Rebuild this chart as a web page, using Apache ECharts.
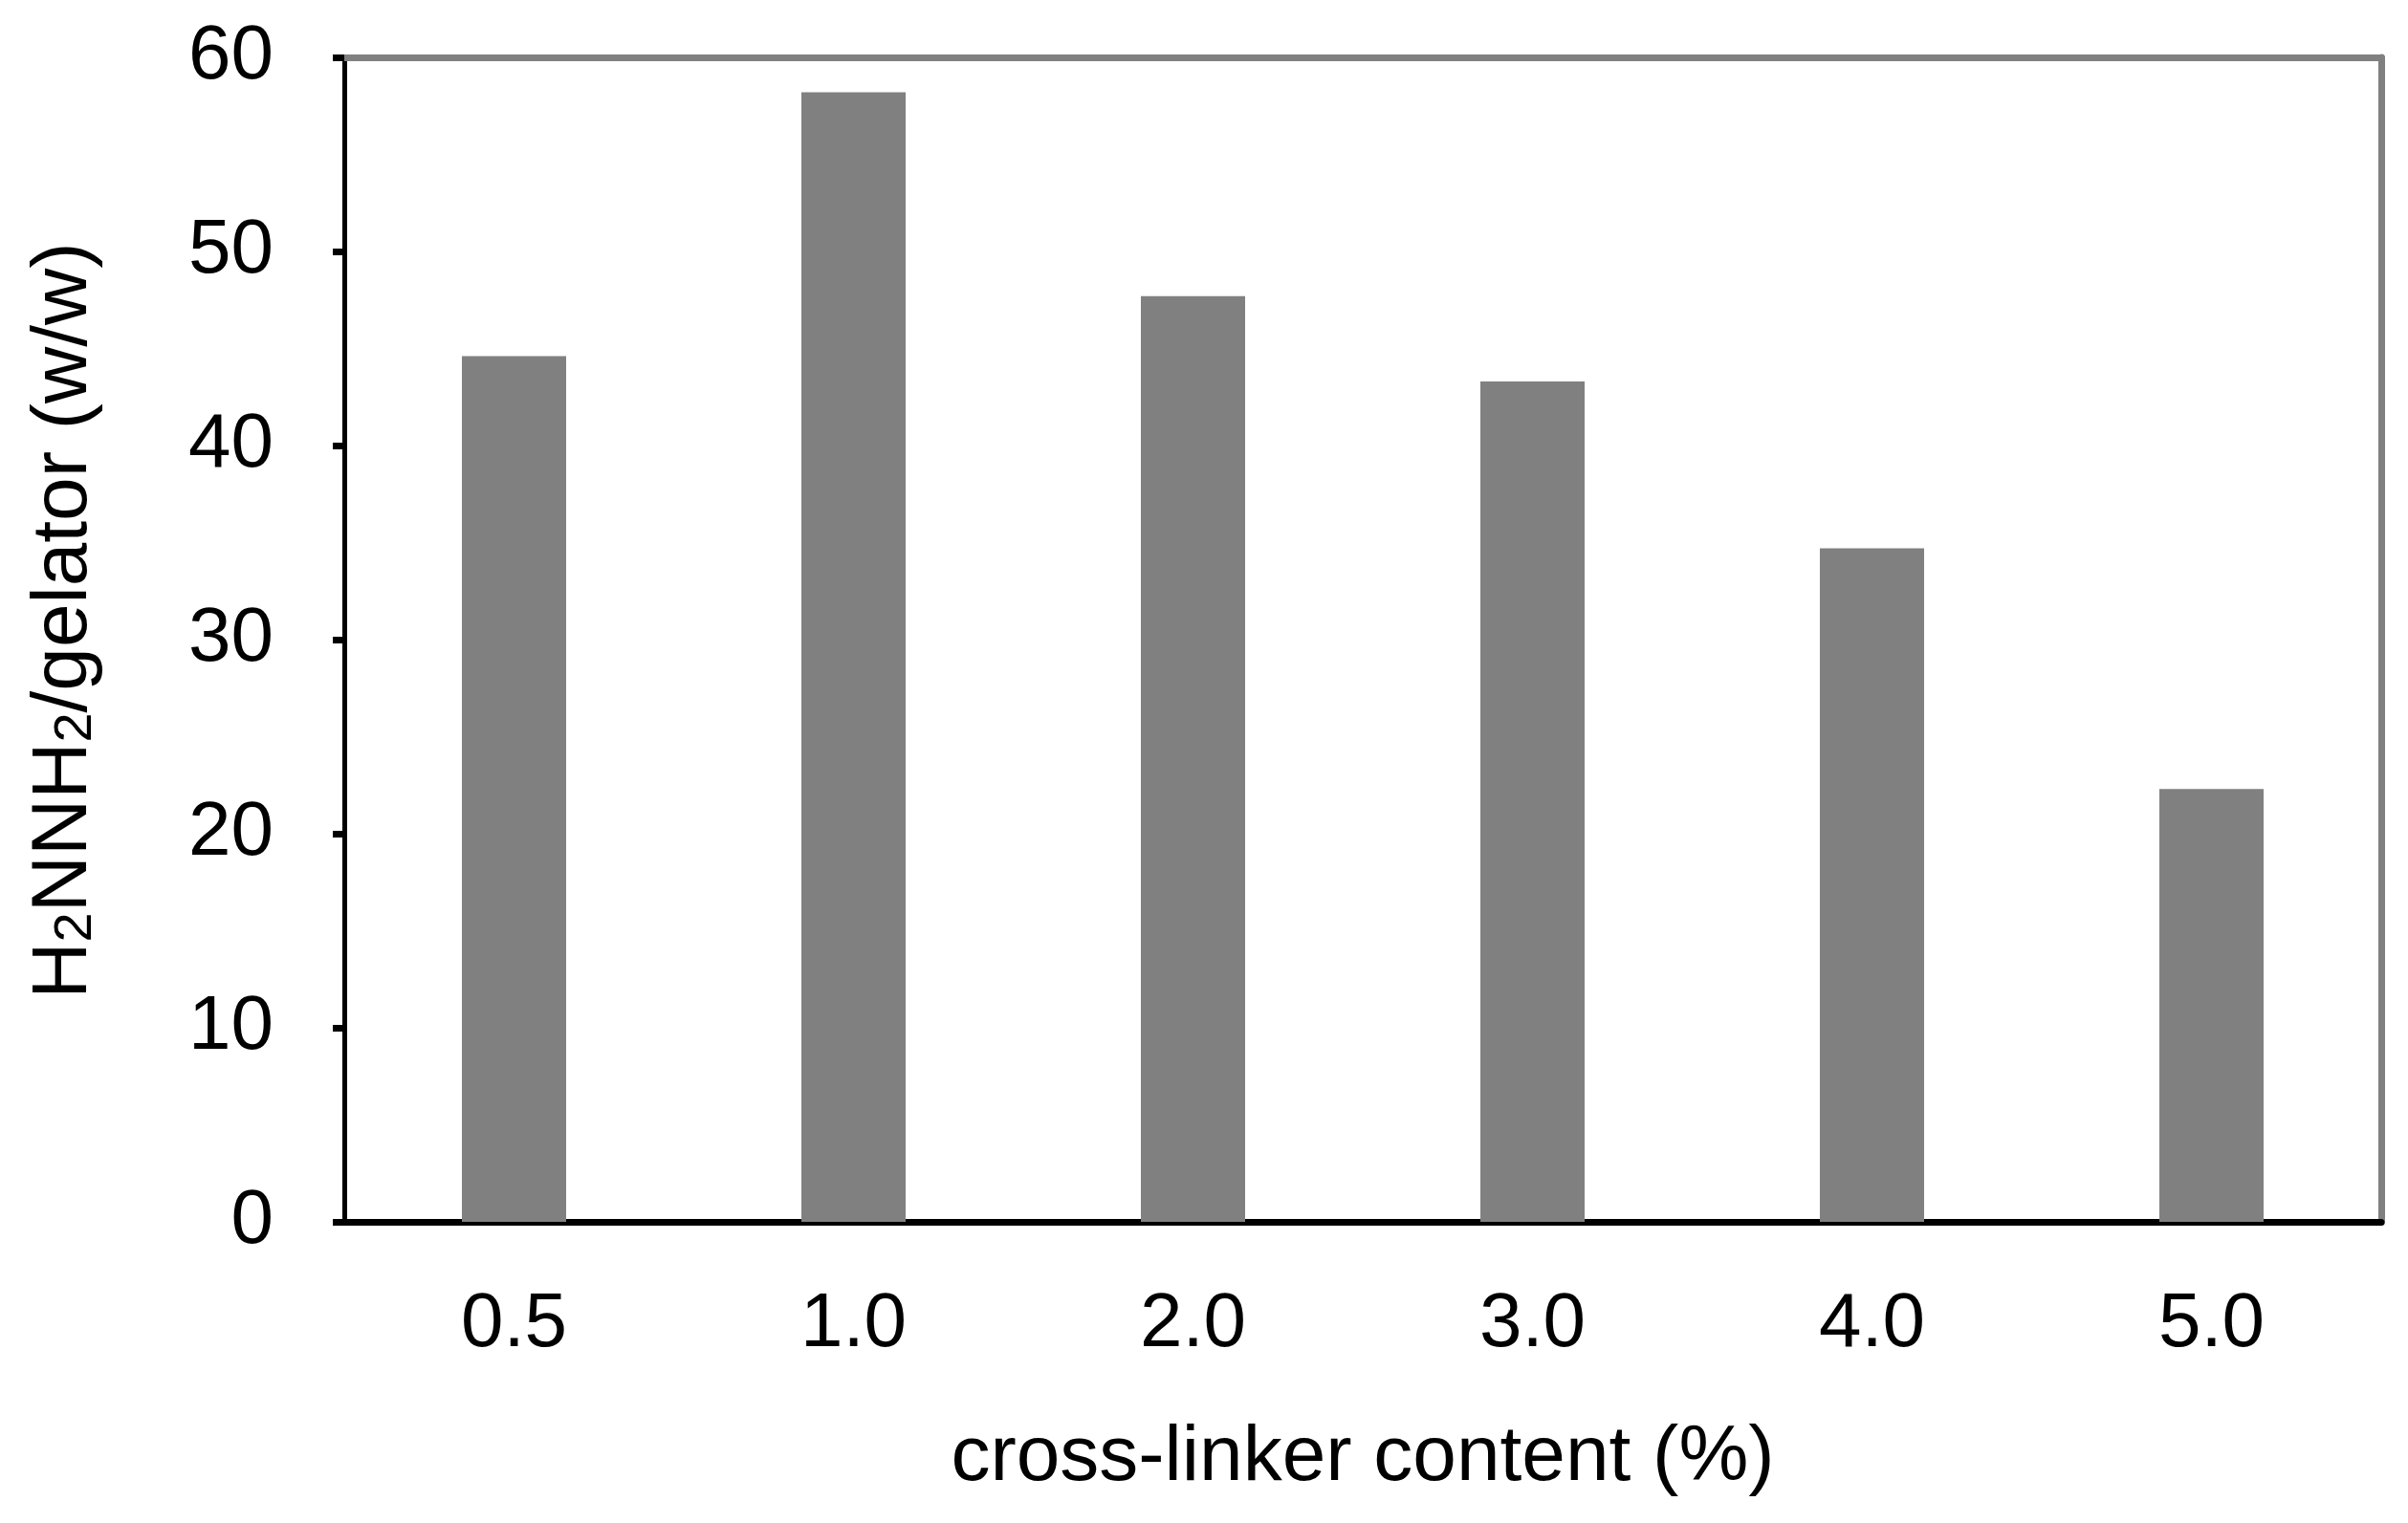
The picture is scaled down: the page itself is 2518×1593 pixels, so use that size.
<!DOCTYPE html>
<html>
<head>
<meta charset="utf-8">
<script src="https://cdn.jsdelivr.net/npm/echarts@6/dist/echarts.min.js"></script>
<style>
  html, body { margin: 0; padding: 0; background: #fff; }
  #chart { width: 2518px; height: 1593px; }
</style>
</head>
<body>
<div id="chart"></div>
<script>
// cross-linker content (%) vs hydrazine uptake
const categories = ['0.5', '1.0', '2.0', '3.0', '4.0', '5.0']
const uptake = [44.6, 58.2, 47.7, 43.3, 34.7, 22.3]
const yTicks = { min: 0, max: 60, interval: 10 }

const font = "'Liberation Sans', Arial, Helvetica, sans-serif"
const chart = echarts.init(document.getElementById('chart'))

const option = {
  backgroundColor: '#ffffff',
  animation: false,
  grid: {
    left: 360,
    right: 28,
    top: 60,
    bottom: 315
  },
  xAxis: [
    {
      type: 'category',
      data: categories,
      position: 'bottom',
      name: 'cross-linker content (%)',
      nameLocation: 'middle',
      nameGap: 206,
      nameTextStyle: { color: '#000', fontSize: 82, fontFamily: font },
      axisLine: { lineStyle: { color: '#000', width: 7 } },
      axisTick: { alignWithLabel: true, length: 10, lineStyle: { color: '#000', width: 5 } },
      axisLabel: { color: '#000', fontSize: 80, fontFamily: font, margin: 68 }
    },
    {
      // grey frame on top
      type: 'category',
      data: categories,
      position: 'top',
      axisLine: { onZero: false, lineStyle: { color: '#808080', width: 7 } },
      axisTick: { show: false },
      axisLabel: { show: false }
    }
  ],
  yAxis: [
    {
      type: 'value',
      min: yTicks.min,
      max: yTicks.max,
      interval: yTicks.interval,
      name: '{t|H}{s|2}{t|NNH}{s|2}{t|/gelator (w/w)}',
      nameLocation: 'middle',
      nameGap: 252,
      nameRotate: 90,
      nameTextStyle: {
        color: '#000',
        fontFamily: font,
        padding: [0, 0, 0, 40],
        rich: {
          t: { fontSize: 82, fontFamily: font, color: '#000' },
          s: { fontSize: 56, fontFamily: font, color: '#000', verticalAlign: 'bottom', padding: [24, 0, 0, 0] }
        }
      },
      axisLine: { show: true, lineStyle: { color: '#000', width: 5 } },
      axisTick: { show: true, length: 12, lineStyle: { color: '#000', width: 7 } },
      axisLabel: { color: '#000', fontSize: 80, fontFamily: font, margin: 74 },
      splitLine: { show: false }
    },
    {
      // grey frame on the right
      type: 'value',
      min: yTicks.min,
      max: yTicks.max,
      interval: yTicks.interval,
      position: 'right',
      axisLine: { show: true, onZero: false, lineStyle: { color: '#808080', width: 7 } },
      axisTick: { show: false },
      axisLabel: { show: false },
      splitLine: { show: false }
    }
  ],
  series: [
    {
      type: 'bar',
      data: uptake,
      barWidth: 109,
      itemStyle: { color: '#808080' }
    }
  ]
}

chart.setOption(option)
</script>
</body>
</html>
